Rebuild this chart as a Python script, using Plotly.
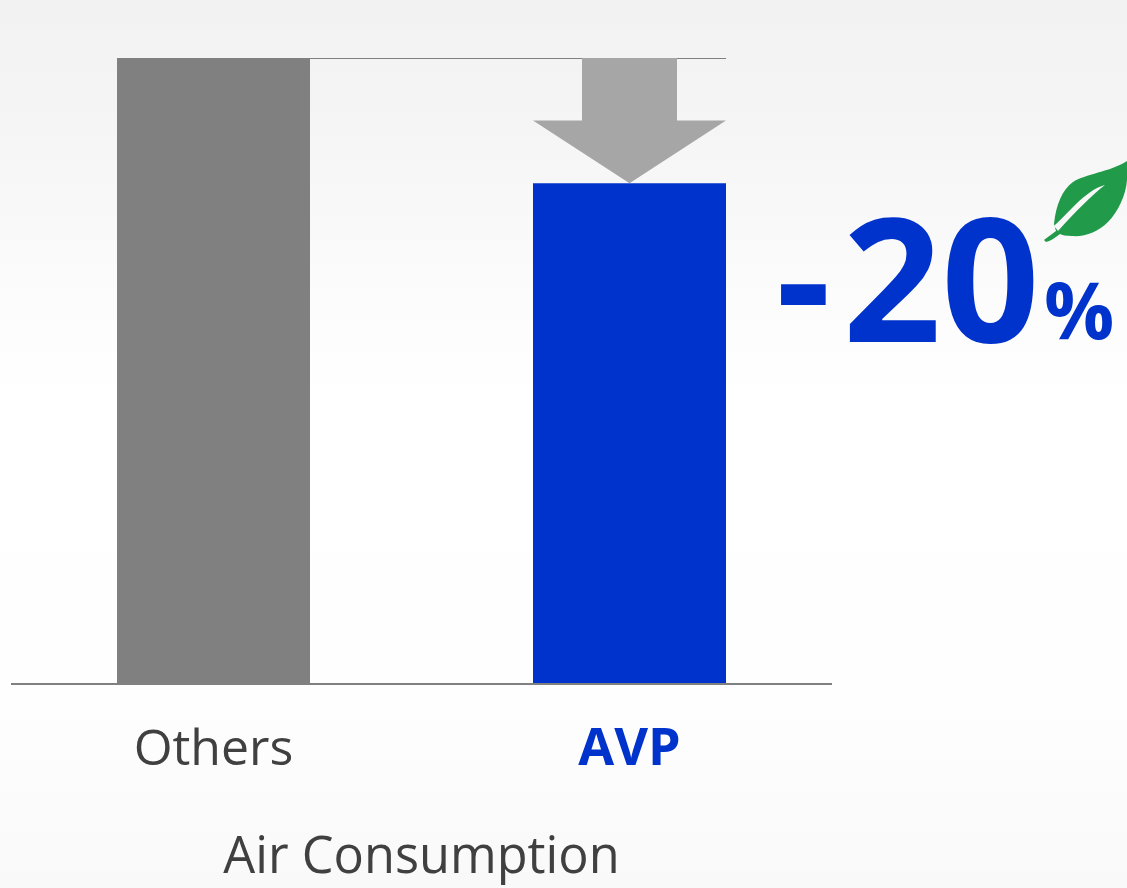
import plotly.graph_objects as go

# --- data ---
categories = ["Others", "AVP"]
positions = [0, 1]
values = [100, 80]
bar_colors = ["#808080", "#0033CC"]
tick_labels = ["Others", '<b><span style="color:#0033CC;font-size:52px">AVP</span></b>']
axis_title = "Air Consumption"
reduction_sign = "-"
reduction_value = "20"
reduction_unit = "%"

W, H = 1127, 888
ML, MR, MT, MB = 11, 295, 58, 204
BAR_W = 193 / 416
PW, PH = W - ML - MR, H - MT - MB
x0 = -(213.5 - ML) / 416
xr = [x0, x0 + PW / 416]
FONT = "Open Sans, Noto Sans, sans-serif"
INK = "#404040"


def px(x):
    return (x - ML) / PW


def py(y):
    return (H - MB - y) / PH


def P(x, y):
    return f"{px(x):.5f},{py(y):.5f}"


# background gradient (pixel y, grey level)
stops = [(0, 242), (100, 244), (200, 248), (300, 252), (400, 255), (700, 254), (888, 249)]


def grey(y):
    for (a, ca), (b, cb) in zip(stops, stops[1:]):
        if a <= y <= b:
            return round(ca + (cb - ca) * (y - a) / (b - a))
    return 255


shapes = []
step = 8
for y in range(0, H, step):
    g = grey(y + step / 2)
    shapes.append(dict(type="rect", xref="paper", yref="paper", layer="below",
                       x0=px(0), x1=px(W), y0=py(y + step), y1=py(y),
                       fillcolor=f"rgb({g},{g},{g})", line_width=0))

# baseline
shapes.append(dict(type="line", xref="paper", yref="paper", x0=0, x1=1, y0=0, y1=0,
                   line=dict(color="#808080", width=2)))

# leaf
leaf = (f"M{P(1044,240)} L{P(1056,231)} L{P(1054,224)} C{P(1056,205)} {P(1062,190)} {P(1073,182)} "
        f"C{P(1085,174)} {P(1110,172)} {P(1127,161)} L{P(1127,180)} C{P(1126,195)} {P(1118,212)} {P(1108,222)} "
        f"C{P(1098,232)} {P(1085,237)} {P(1072,236)} C{P(1066,236)} {P(1062,235)} {P(1060,234)} "
        f"C{P(1055,238)} {P(1050,241)} {P(1046,242)} Z")
vein = (f"M{P(1054,226)} C{P(1065,217)} {P(1085,190)} {P(1105,185)} "
        f"C{P(1092,195)} {P(1075,212)} {P(1058,231)} Z")
shapes.append(dict(type="path", xref="paper", yref="paper", path=leaf, fillcolor="#219A4A", line_width=0))
shapes.append(dict(type="path", xref="paper", yref="paper", path=vein, fillcolor="#F8F8F8", line_width=0))

fig = go.Figure()
fig.add_trace(go.Bar(x=positions, y=values, width=BAR_W, marker=dict(color=bar_colors, line_width=0),
                     hoverinfo="skip", showlegend=False))

# reference line at the top of the taller bar
fig.add_trace(go.Scatter(x=[positions[0] - BAR_W / 2, positions[1] + BAR_W / 2], y=[values[0], values[0]],
                         mode="lines", line=dict(color="#808080", width=2),
                         hoverinfo="skip", showlegend=False))

# arrow from the old level down to the new one
c = positions[1]
shaft = 47.5 / 416
head = BAR_W / 2
neck = (values[0] + values[1]) / 2
fig.add_trace(go.Scatter(
    x=[c - shaft, c + shaft, c + shaft, c + head, c, c - head, c - shaft, c - shaft],
    y=[values[0], values[0], neck, neck, values[1], neck, neck, values[0]],
    mode="lines", fill="toself", fillcolor="#A6A6A6", line_width=0,
    hoverinfo="skip", showlegend=False))

annotations = [
    dict(text=f"<b>{reduction_sign}</b>", xref="paper", yref="paper", x=px(774), y=py(274),
         xanchor="left", yanchor="middle", showarrow=False,
         font=dict(family=FONT, size=170, color="#0033CC")),
    dict(text=f"<b>{reduction_value}</b>", xref="paper", yref="paper", x=px(941), y=py(275),
         xanchor="center", yanchor="middle", showarrow=False,
         font=dict(family=FONT, size=172, color="#0033CC")),
    dict(text=f"<b>{reduction_unit}</b>", xref="paper", yref="paper", x=px(1079), y=py(309),
         xanchor="center", yanchor="middle", showarrow=False,
         font=dict(family=FONT, size=78, color="#0033CC")),
]

fig.update_layout(
    width=W, height=H, margin=dict(l=ML, r=MR, t=MT, b=MB, pad=0),
    paper_bgcolor="white", plot_bgcolor="rgba(0,0,0,0)",
    shapes=shapes, annotations=annotations, showlegend=False,
    font=dict(family=FONT, color=INK),
    xaxis=dict(range=xr, tickmode="array", tickvals=positions, ticktext=tick_labels,
               tickfont=dict(size=50, color=INK), ticks="", showgrid=False, zeroline=False,
               showline=False, ticklabelstandoff=30,
               title=dict(text=axis_title, font=dict(size=50.5, color=INK), standoff=60)),
    yaxis=dict(range=[0, 100], visible=False, showgrid=False, zeroline=False),
)
fig.write_html("out.html", config={"displayModeBar": False},
               post_script="document.body.style.margin='0';document.body.style.overflow='hidden';")
